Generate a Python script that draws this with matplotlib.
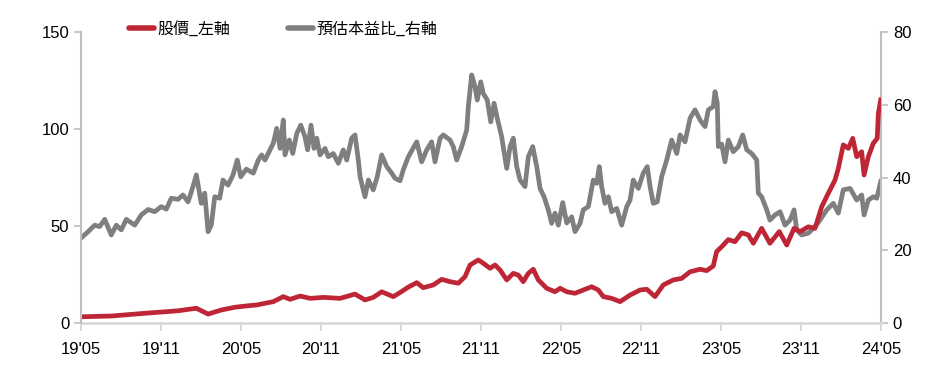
import matplotlib
matplotlib.use('Agg')
import matplotlib.pyplot as plt
import numpy as np

# months since 2019-05
pe_month = [0.02, 0.53, 1.03, 1.40, 1.78, 2.27, 2.65, 3.02, 3.40, 4.03, 4.52, 5.03, 5.53, 6.02, 6.40,
            6.77, 7.28, 7.65, 8.03, 8.40, 8.65, 9.02, 9.28, 9.53, 9.77, 10.03, 10.40, 10.65, 11.03,
            11.40, 11.72, 11.98, 12.40, 12.92, 13.30, 13.55, 13.80, 14.18, 14.42, 14.68, 14.93,
            15.17, 15.30, 15.62, 15.88, 16.18, 16.48, 16.80, 17.00, 17.25, 17.48, 17.68, 17.93,
            18.30, 18.55, 18.92, 19.30, 19.67, 19.93, 20.30, 20.55, 20.80, 20.93, 21.30, 21.55,
            21.92, 22.22, 22.55, 22.93, 23.30, 23.55, 23.93, 24.17, 24.55, 25.18, 25.55, 25.93,
            26.30, 26.55, 26.93, 27.17, 27.68, 27.92, 28.18, 28.55, 28.93, 29.05, 29.30, 29.55,
            29.72, 29.98, 30.17, 30.47, 30.73, 30.98, 31.22, 31.55, 31.93, 32.18, 32.42, 32.68,
            32.93, 33.30, 33.55, 33.88, 34.18, 34.43, 34.73, 35.05, 35.30, 35.55, 35.80, 36.13,
            36.43, 36.80, 37.05, 37.43, 37.67, 38.05, 38.42, 38.68, 38.87, 39.05, 39.30, 39.55,
            39.80, 40.18, 40.55, 40.93, 41.18, 41.42, 41.80, 42.17, 42.47, 42.68, 42.92, 43.22,
            43.55, 43.93, 44.30, 44.68, 44.93, 45.30, 45.68, 46.05, 46.43, 46.80, 47.05, 47.42,
            47.55, 47.72, 47.80, 48.05, 48.30, 48.55, 48.92, 49.30, 49.63, 49.93, 50.30, 50.68,
            50.80, 51.05, 51.43, 51.67, 52.05, 52.43, 52.80, 53.18, 53.48, 53.68, 54.05, 54.55,
            55.05, 55.43, 55.93, 56.42, 56.80, 57.17, 57.68, 58.18, 58.55, 58.73, 59.05, 59.42,
            59.68, 59.98]
pe_value = [23.4, 25.1, 26.9, 26.5, 28.5, 24.2, 26.9, 25.6, 28.5, 26.9, 29.7, 31.2, 30.6, 32.0, 31.3,
            34.3, 34.0, 35.2, 33.3, 37.5, 40.7, 32.9, 35.7, 25.1, 26.9, 34.7, 34.3, 39.3, 37.9,
            40.7, 44.8, 40.2, 42.3, 41.2, 44.8, 46.2, 44.8, 47.6, 49.4, 53.5, 48.0,
            55.8, 46.2, 50.3, 46.6, 52.1, 54.4, 51.2, 47.6, 54.4, 48.0, 50.8, 46.2,
            48.0, 45.7, 46.6, 43.9, 47.6, 44.8, 50.8, 51.7, 44.8, 40.2, 34.7, 39.3,
            36.6, 40.2, 46.2, 43.0, 41.2, 39.8, 39.1, 42.1, 45.7, 49.8, 44.3, 47.6,
            49.8, 44.3, 50.8, 51.7, 50.3, 48.5, 44.8, 48.5, 53.1, 59.5, 68.2, 65.0,
            61.3, 66.3, 63.1, 61.3, 55.3, 60.4, 56.3, 51.2, 42.5, 48.5, 50.8, 43.0,
            39.3, 37.5, 45.7, 48.5, 43.0, 37.0, 34.7, 31.1, 27.4, 30.2, 26.9, 33.1,
            27.5, 29.2, 25.1, 27.4, 31.1, 32.0, 39.3, 38.4, 43.0, 37.5, 32.9, 34.7,
            30.6, 31.5, 26.9, 32.0, 33.8, 39.3, 37.0, 41.2, 43.0, 37.5, 32.9, 33.3,
            40.2, 44.8, 50.3, 46.6, 51.7, 49.8, 56.3, 58.6, 55.8, 54.0, 58.6, 59.5,
            63.6, 60.4, 48.5, 49.2, 44.3, 50.3, 47.1, 48.5, 51.7, 47.6, 46.6, 44.8,
            35.7, 34.7, 31.1, 28.3, 29.7, 30.6, 26.9, 28.3, 31.1, 25.6, 24.2, 24.7,
            26.5, 28.3, 31.1, 32.9, 30.2, 36.6, 37.0, 33.8, 35.2, 29.7, 33.8, 34.7,
            34.3, 38.9]

px_month = [0.02, 2.27, 4.78, 7.28, 8.65, 9.53, 10.52, 11.53, 12.40, 13.18, 14.42, 15.17, 15.68,
            16.43, 17.18, 18.17, 19.43, 20.55, 21.30, 21.92, 22.55, 23.42, 23.93, 24.55, 25.18,
            25.67, 26.42, 27.05, 27.68, 28.30, 28.80, 29.18, 29.80, 30.17, 30.68, 31.05, 31.43,
            31.93, 32.42, 32.80, 33.17, 33.55, 33.92, 34.30, 34.93, 35.55, 35.93, 36.43, 37.05,
            37.67, 38.30, 38.80, 39.17, 39.80, 40.43, 41.18, 41.93, 42.43, 43.05, 43.67, 44.42,
            45.05, 45.68, 46.43, 46.93, 47.42, 47.67, 48.05, 48.55, 49.05, 49.55, 50.05, 50.42,
            51.05, 51.67, 52.37, 52.93, 53.48, 53.93, 54.55, 55.05, 55.55, 56.05, 56.55, 56.80,
            57.17, 57.55, 57.88, 58.18, 58.55, 58.73, 59.05, 59.42, 59.72, 59.80, 59.98]
px_value = [3.2, 3.6, 5.0, 6.3, 7.6, 4.6, 6.7, 8.1, 8.8, 9.3, 11.0, 13.6, 12.2,
            13.9, 12.7, 13.2, 12.7, 14.9, 11.9, 13.2, 16.1, 13.6, 15.7, 18.5, 20.8,
            18.2, 19.6, 22.5, 21.3, 20.5, 23.9, 29.9, 32.5, 30.8, 28.2, 29.9, 27.3,
            22.2, 25.6, 24.7, 21.3, 25.6, 27.7, 22.2, 17.9, 16.1, 17.9, 16.1, 15.3,
            17.0, 18.7, 17.0, 13.6, 12.7, 11.0, 14.4, 17.0, 17.4, 13.6, 19.6, 22.2,
            23.0, 26.4, 27.7, 27.0, 29.4, 36.8, 39.3, 43.0, 41.9, 46.5, 45.4, 41.1,
            48.8, 41.1, 47.1, 40.2, 48.8, 47.1, 49.6, 48.8, 59.9, 66.9, 73.7, 79.7,
            91.8, 90.0, 95.2, 85.7, 88.3, 76.3, 85.7, 92.6, 95.2, 108.0, 115.0]

tick_month = [0, 6, 12, 18, 24, 30, 36, 42, 48, 54, 60]
tick_labels = ["19'05", "19'11", "20'05", "20'11", "21'05", "21'11",
               "22'05", "22'11", "23'05", "23'11", "24'05"]

RED = '#BE2636'
GRAY = '#7F7F7F'
num_font = ['Liberation Sans Narrow', 'Liberation Sans', 'DejaVu Sans']
cjk_font = ['Noto Sans CJK TC', 'DejaVu Sans']

fig = plt.figure(figsize=(9.41, 3.72), dpi=100)
ax_pe = fig.add_axes([81 / 941, 1 - 323 / 372, 800 / 941, 291 / 372])
ax_px = ax_pe.twinx()

ax_pe.plot(pe_month, pe_value, color=GRAY, lw=3.4, solid_joinstyle='round', label='預估本益比_右軸')
ax_px.plot(px_month, px_value, color=RED, lw=3.4, solid_joinstyle='round', label='股價_左軸')

# gray series on the right scale, red on the left
ax_pe.yaxis.tick_right()
ax_pe.yaxis.set_label_position('right')
ax_px.yaxis.tick_left()
ax_px.yaxis.set_label_position('left')

ax_pe.set_ylim(0, 80)
ax_pe.set_yticks([0, 20, 40, 60, 80])
ax_px.set_ylim(0, 150)
ax_px.set_yticks([0, 50, 100, 150])
ax_pe.set_xlim(0, 60)
ax_pe.set_xticks(tick_month)
ax_pe.set_xticklabels(tick_labels)

for a in (ax_pe, ax_px):
    for s in a.spines.values():
        s.set_visible(False)
    a.tick_params(axis='y', colors='#BFBFBF', labelcolor='black', length=5, width=1.2,
                  direction='out', labelsize=12)
    for lab in a.get_yticklabels():
        lab.set_family(num_font)

ax_pe.spines['right'].set_visible(True)
ax_pe.spines['right'].set_color('#BFBFBF')
ax_pe.spines['right'].set_linewidth(1.5)
ax_px.spines['left'].set_visible(True)
ax_px.spines['left'].set_color('#BFBFBF')
ax_px.spines['left'].set_linewidth(1.5)
ax_pe.spines['bottom'].set_visible(True)
ax_pe.spines['bottom'].set_color('#D9D9D9')
ax_pe.spines['bottom'].set_linewidth(2)
ax_pe.tick_params(axis='x', colors='#D9D9D9', labelcolor='black', length=6, width=1.5,
                  direction='out', labelsize=12, pad=8)
for lab in ax_pe.get_xticklabels():
    lab.set_family(num_font)

h1, l1 = ax_px.get_legend_handles_labels()
h2, l2 = ax_pe.get_legend_handles_labels()
fig.legend(h1 + h2, l1 + l2, loc='center', bbox_to_anchor=(283 / 941, 1 - 29 / 372), ncol=2,
           frameon=False, prop={'family': cjk_font, 'size': 11.5}, handlelength=1.6,
           handletextpad=0.2, columnspacing=3.6)
for line in fig.legends[0].get_lines():
    line.set_linewidth(4)
    line.set_solid_capstyle('round')

fig.savefig('out.png', dpi=100)
